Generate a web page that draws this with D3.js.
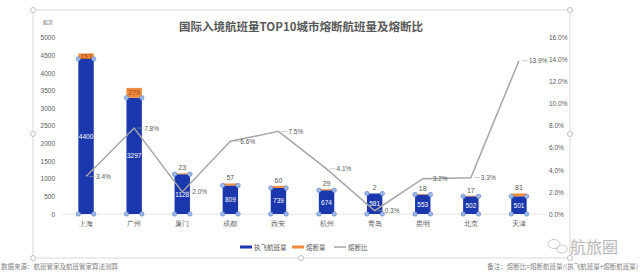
<!DOCTYPE html>
<html>
<head>
<meta charset="utf-8">
<script src="https://cdn.jsdelivr.net/npm/d3@7"></script>
<style>
  body { margin: 0; background: #fff; }
  svg { display: block; font-family: "Noto Sans CJK SC", "Noto Sans", sans-serif; }
</style>
</head>
<body>
<svg width="640" height="273"></svg>
<script>
const cities = ["上海", "广州", "厦门", "成都", "西安", "杭州", "青岛", "昆明", "北京", "天津"];
const flown = [4400, 3297, 1128, 809, 739, 674, 581, 553, 502, 501];
const cancelled = [153, 279, 23, 57, 60, 29, 2, 18, 17, 81];
const ratio = [3.4, 7.8, 2.0, 6.6, 7.5, 4.1, 0.3, 3.2, 3.3, 13.9];
const leftTicks = [0, 500, 1000, 1500, 2000, 2500, 3000, 3500, 4000, 4500, 5000];
const rightTicks = [0, 2, 4, 6, 8, 10, 12, 14, 16];

const blue = "#1a37ad", orange = "#f08a3c", lineGray = "#a6a6a6", textGray = "#595959";

const svg = d3.select("svg");

const x = d3.scaleBand().domain(cities).range([62, 543]).paddingInner(0.68).paddingOuter(0.34);
const y = d3.scaleLinear().domain([0, 5000]).range([214, 37.7]);
const y2 = d3.scaleLinear().domain([0, 16]).range([214, 37.7]);

// chart frame (selected chart look)
svg.append("rect")
  .attr("x", 33).attr("y", 10).attr("width", 537).attr("height", 248)
  .attr("fill", "none").attr("stroke", "#d9d9d9").attr("stroke-width", 1);
[[33, 10], [570, 10], [33, 134], [570, 134], [33, 258], [301, 258], [570, 258]].forEach(p => {
  svg.append("circle").attr("cx", p[0]).attr("cy", p[1]).attr("r", 2.5)
    .attr("fill", "#fff").attr("stroke", "#bfbfbf");
});

// title
svg.append("text")
  .attr("x", 301).attr("y", 31).attr("text-anchor", "middle")
  .attr("font-size", 11.5).attr("font-weight", "bold").attr("fill", textGray)
  .text("国际入境航班量TOP10城市熔断航班量及熔断比");

svg.append("text").attr("x", 48).attr("y", 24).attr("text-anchor", "middle")
  .attr("font-size", 5).attr("fill", textGray).text("航次");

// left axis
const yAxis = d3.axisLeft(y).tickValues(leftTicks).tickSize(0).tickPadding(0).tickFormat(d3.format("d"));
const gy = svg.append("g").attr("transform", "translate(55,0)").call(yAxis);
gy.select(".domain").remove();
gy.selectAll("text").attr("font-size", 6.5).attr("fill", textGray).attr("font-family", "Liberation Sans, sans-serif");

// right axis
const y2Axis = d3.axisRight(y2).tickValues(rightTicks).tickSize(0).tickPadding(0)
  .tickFormat(d => d.toFixed(1) + "%");
const gy2 = svg.append("g").attr("transform", "translate(549,0)").call(y2Axis);
gy2.select(".domain").remove();
gy2.selectAll("text").attr("font-size", 6.5).attr("fill", textGray).attr("font-family", "Liberation Sans, sans-serif");

// baseline
svg.append("line").attr("x1", 62).attr("x2", 543).attr("y1", y(0)).attr("y2", y(0))
  .attr("stroke", "#e6e6e6");

// x axis labels
const gx = svg.append("g").attr("transform", `translate(0,${y(0)})`)
  .call(d3.axisBottom(x).tickSize(0).tickPadding(7));
gx.select(".domain").remove();
gx.selectAll("text").attr("font-size", 7).attr("fill", textGray);

// stacked bars
const bw = x.bandwidth();
svg.selectAll(".bar-flown").data(cities).enter().append("rect")
  .attr("x", d => x(d)).attr("width", bw)
  .attr("y", (d, i) => y(flown[i])).attr("height", (d, i) => y(0) - y(flown[i]))
  .attr("fill", blue);
svg.selectAll(".bar-cancel").data(cities).enter().append("rect")
  .attr("x", d => x(d)).attr("width", bw)
  .attr("y", (d, i) => y(flown[i] + cancelled[i]))
  .attr("height", (d, i) => y(flown[i]) - y(flown[i] + cancelled[i]))
  .attr("fill", orange);

// selection handles on bar corners
cities.forEach((c, i) => {
  [[x(c), y(0)], [x(c) + bw, y(0)], [x(c), y(flown[i])], [x(c) + bw, y(flown[i])]].forEach(p => {
    svg.append("circle").attr("cx", p[0]).attr("cy", p[1]).attr("r", 2.2)
      .attr("fill", "#9db8e6").attr("stroke", "#5f84c8").attr("stroke-width", 0.6);
  });
});

// blue value labels
svg.selectAll(".lab-flown").data(cities).enter().append("text")
  .attr("x", d => x(d) + bw / 2)
  .attr("y", (d, i) => (y(0) + y(flown[i])) / 2 + 2.5)
  .attr("text-anchor", "middle").attr("font-size", 6.5).attr("fill", "#fff")
  .attr("font-family", "Liberation Sans, sans-serif")
  .text((d, i) => flown[i]);

// orange value labels
svg.selectAll(".lab-cancel").data(cities).enter().append("text")
  .attr("x", d => x(d) + bw / 2)
  .attr("y", (d, i) => cancelled[i] > 100
    ? (y(flown[i]) + y(flown[i] + cancelled[i])) / 2 + 2.5
    : y(flown[i] + cancelled[i]) - 3)
  .attr("text-anchor", "middle").attr("font-size", 7)
  .attr("fill", (d, i) => cancelled[i] > 100 ? "#a0461a" : textGray)
  .attr("font-family", "Liberation Sans, sans-serif")
  .text((d, i) => cancelled[i]);

// ratio line
const line = d3.line().x((d, i) => x(cities[i]) + bw / 2).y(d => y2(d));
svg.append("path").datum(ratio).attr("d", line)
  .attr("fill", "none").attr("stroke", lineGray).attr("stroke-width", 1.5);

// ratio labels with short leaders
ratio.forEach((r, i) => {
  const cx = x(cities[i]) + bw / 2, cy = y2(r);
  svg.append("line").attr("x1", cx + 3).attr("x2", cx + 9).attr("y1", cy).attr("y2", cy)
    .attr("stroke", lineGray).attr("stroke-width", 0.6);
  svg.append("text").attr("x", cx + 10).attr("y", cy + 2.5)
    .attr("font-size", 6.5).attr("fill", textGray)
    .attr("font-family", "Liberation Sans, sans-serif")
    .text(r.toFixed(1) + "%");
});

// legend
const legend = svg.append("g").attr("transform", "translate(240,247)");
legend.append("rect").attr("x", 0).attr("y", -1.5).attr("width", 12).attr("height", 3).attr("fill", blue);
legend.append("text").attr("x", 14).attr("y", 2.5).attr("font-size", 6.5).attr("fill", textGray).text("执飞航班量");
legend.append("rect").attr("x", 52).attr("y", -1.5).attr("width", 12).attr("height", 3).attr("fill", orange);
legend.append("text").attr("x", 66).attr("y", 2.5).attr("font-size", 6.5).attr("fill", textGray).text("熔断量");
legend.append("line").attr("x1", 94).attr("x2", 106).attr("y1", 0).attr("y2", 0).attr("stroke", lineGray).attr("stroke-width", 1.5);
legend.append("text").attr("x", 108).attr("y", 2.5).attr("font-size", 6.5).attr("fill", textGray).text("熔断比");

// footnotes
svg.append("text").attr("x", 1).attr("y", 269).attr("font-size", 6.5).attr("fill", "#7f7f7f")
  .text("数据来源：航班管家及航班管家算法测算");
svg.append("text").attr("x", 638).attr("y", 269).attr("text-anchor", "end").attr("font-size", 6.5).attr("fill", "#7f7f7f")
  .text("备注：熔断比=熔断航班量/(执飞航班量+熔断航班量)");

// watermark
const wm = svg.append("g").attr("transform", "translate(548,248)");
wm.append("ellipse").attr("cx", 6).attr("cy", -4).attr("rx", 6).attr("ry", 4.5)
  .attr("fill", "none").attr("stroke", "#c8c8c8").attr("stroke-width", 1);
wm.append("ellipse").attr("cx", 14).attr("cy", 1).attr("rx", 5).attr("ry", 4)
  .attr("fill", "none").attr("stroke", "#c8c8c8").attr("stroke-width", 1);
wm.append("text").attr("x", 22).attr("y", 5).attr("font-size", 16).attr("fill", "#b8b8b8")
  .text("航旅圈");
</script>
</body>
</html>
